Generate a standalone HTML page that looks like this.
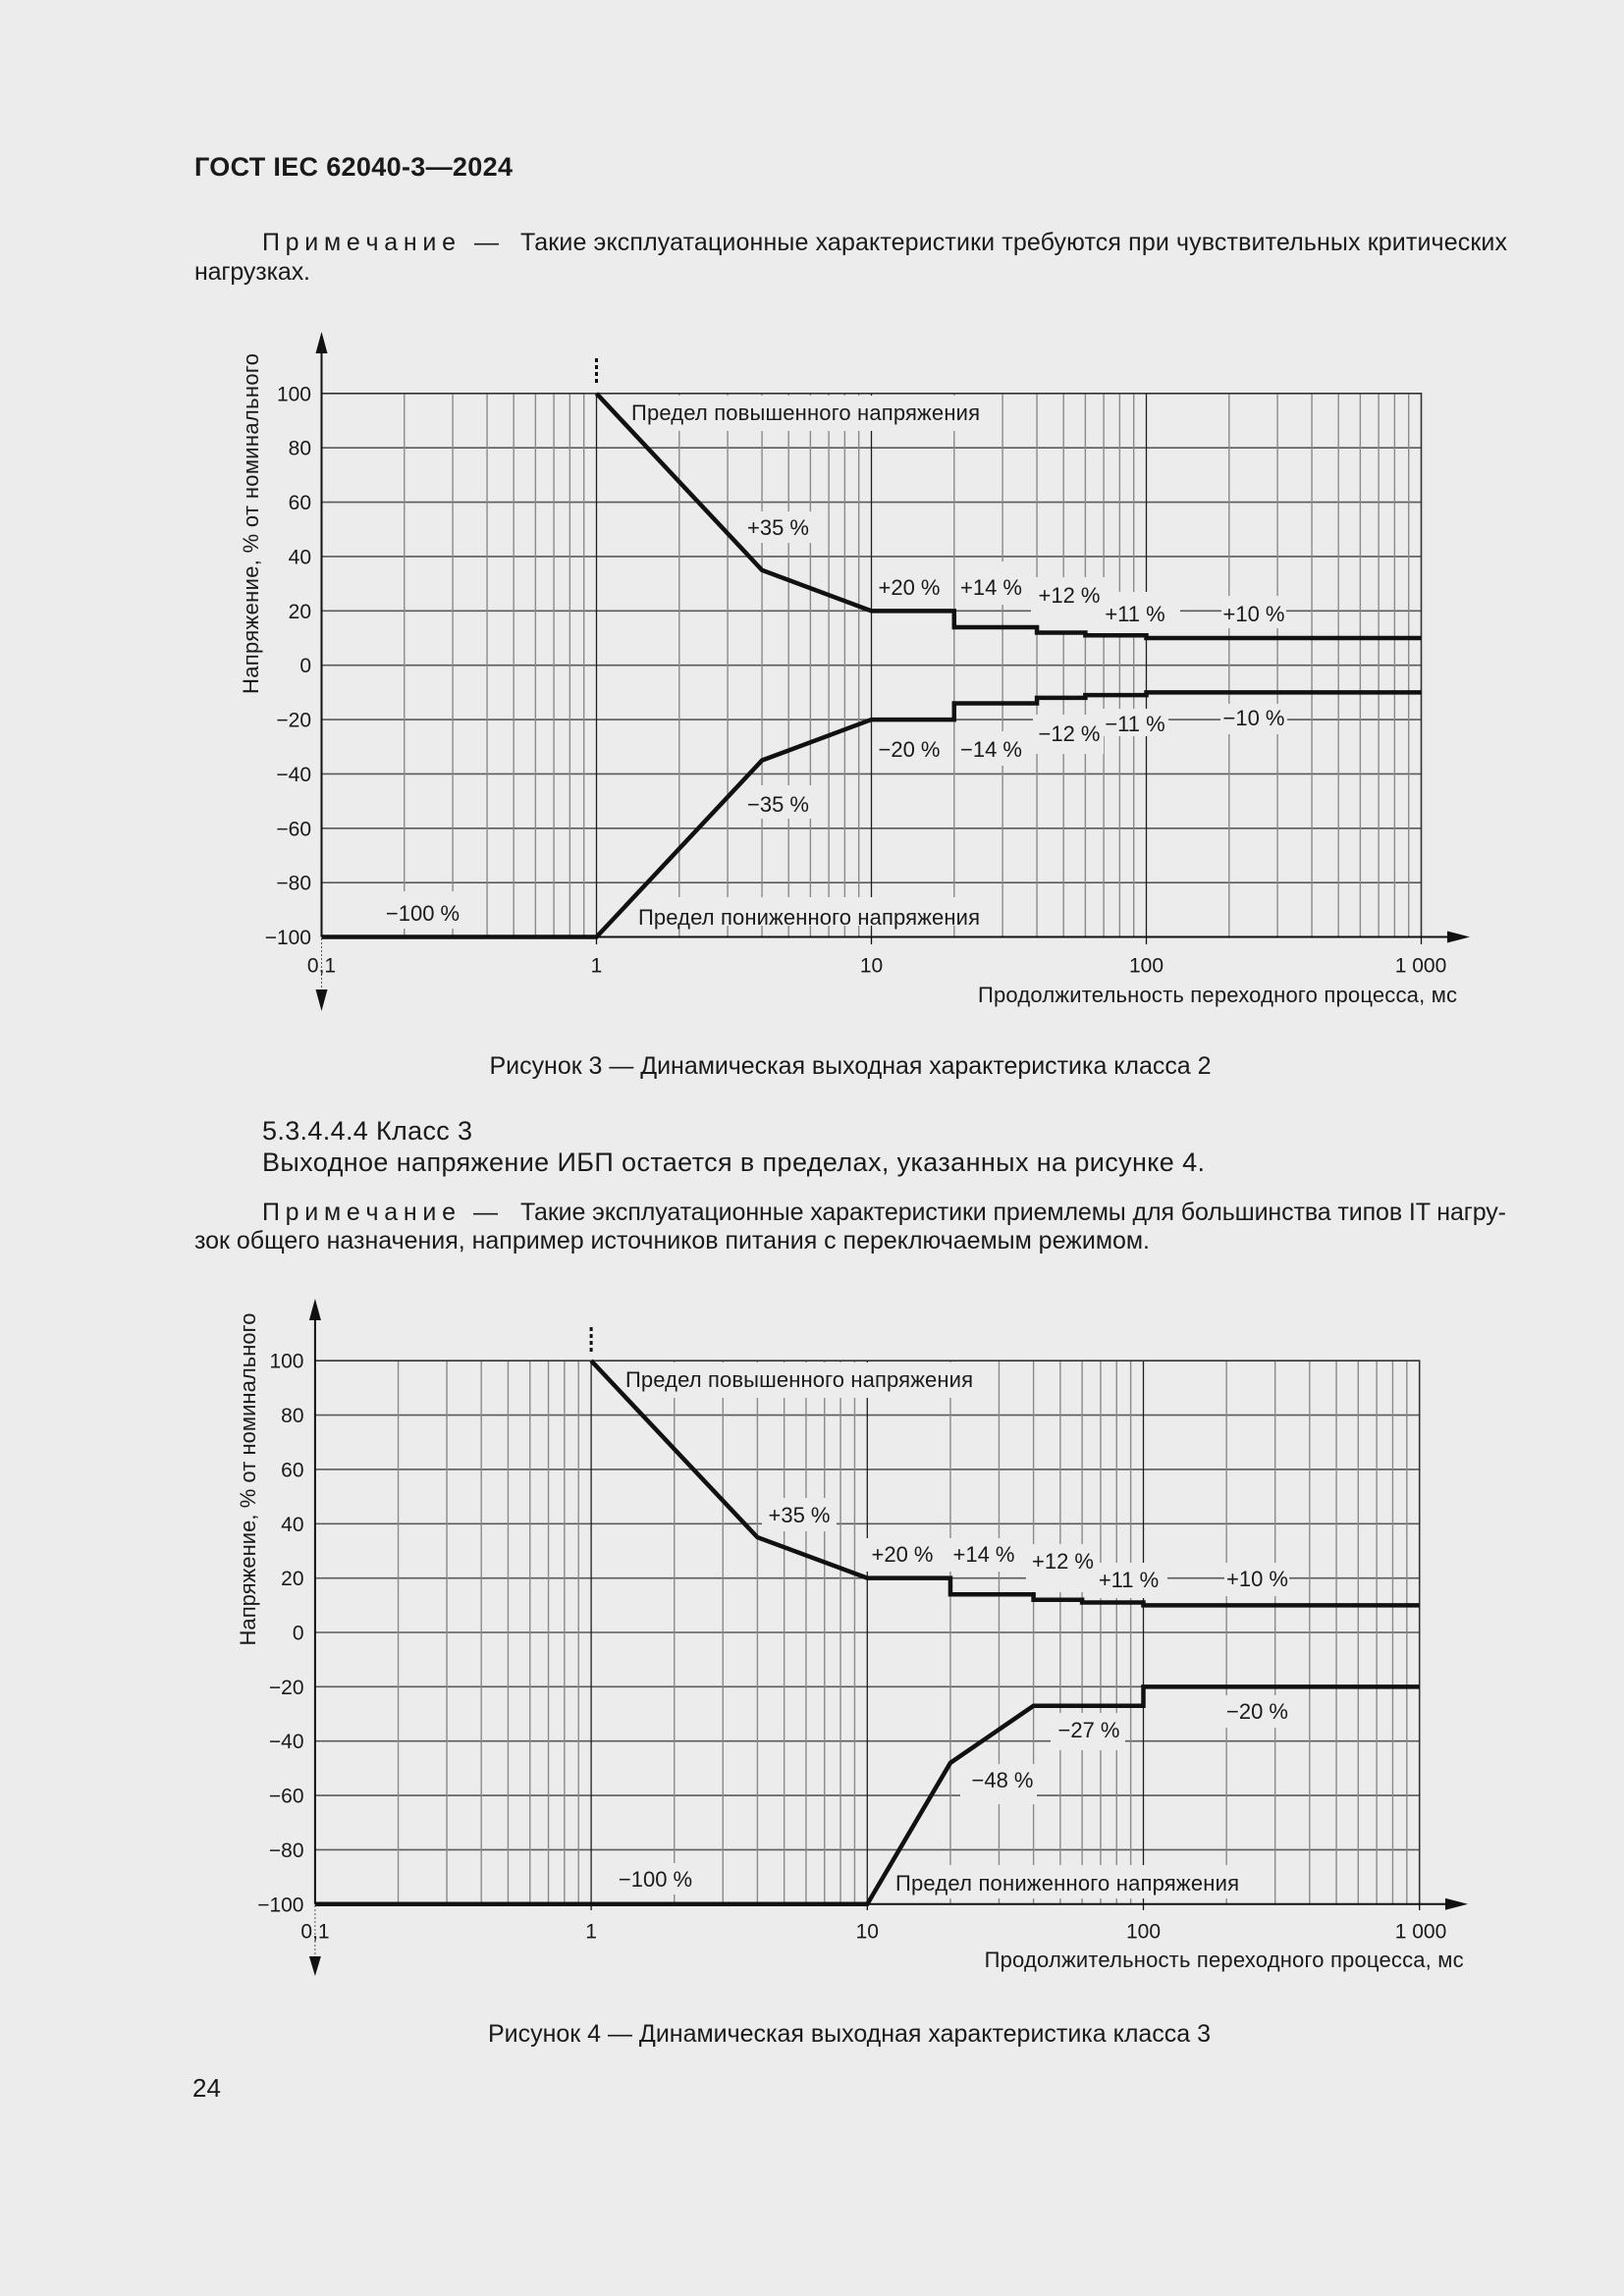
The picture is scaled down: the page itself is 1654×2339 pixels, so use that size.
<!DOCTYPE html>
<html><head><meta charset="utf-8"><style>
html,body{margin:0;padding:0;background:#ececec;}
svg{display:block;}
text{font-family:"Liberation Sans",Arial,sans-serif;fill:#1a1a1a;}
.t{font-size:21px;}
.l{font-size:22px;}
</style></head><body>
<svg width="1654" height="2339" viewBox="0 0 1654 2339" xmlns="http://www.w3.org/2000/svg">
<rect x="0" y="0" width="1654" height="2339" fill="#ececec"/>

<!-- Page text -->
<text x="198" y="179" font-size="27" font-weight="bold" textLength="324">ГОСТ IEC 62040-3—2024</text>
<text x="267" y="255" font-size="25" textLength="197">П р и м е ч а н и е</text>
<text x="483" y="255" font-size="25">—</text>
<text x="530" y="255" font-size="25" textLength="1005">Такие эксплуатационные характеристики требуются при чувствительных критических</text>
<text x="198" y="285" font-size="25" textLength="118">нагрузках.</text>

<text x="866" y="1094" font-size="25" text-anchor="middle" textLength="735">Рисунок 3 — Динамическая выходная характеристика класса 2</text>

<text x="267" y="1161" font-size="27" textLength="214">5.3.4.4.4 Класс 3</text>
<text x="267" y="1193" font-size="27" textLength="960">Выходное напряжение ИБП остается в пределах, указанных на рисунке 4.</text>
<text x="267" y="1243" font-size="25" textLength="197">П р и м е ч а н и е</text>
<text x="482" y="1243" font-size="25">—</text>
<text x="530" y="1243" font-size="25" textLength="1004">Такие эксплуатационные характеристики приемлемы для большинства типов IT нагру-</text>
<text x="198" y="1272" font-size="25" textLength="973">зок общего назначения, например источников питания с переключаемым режимом.</text>

<text x="865" y="2080" font-size="25" text-anchor="middle" textLength="736">Рисунок 4 — Динамическая выходная характеристика класса 3</text>
<text x="196" y="2136" font-size="26" textLength="29">24</text>

<!-- ================= CHART 1 ================= -->
<g>
<path d="M327.5 456.22H1447.5M327.5 511.59H1447.5M327.5 566.96H1447.5M327.5 622.33H1447.5M327.5 677.7H1447.5M327.5 733.07H1447.5M327.5 788.44H1447.5M327.5 843.81H1447.5M327.5 899.18H1447.5" stroke="#5a5a5a" stroke-width="1.6" fill="none"/>
<path d="M411.79 400.85V954.55M461.09 400.85V954.55M496.08 400.85V954.55M523.21 400.85V954.55M545.38 400.85V954.55M564.13 400.85V954.55M580.37 400.85V954.55M594.69 400.85V954.55M691.79 400.85V954.55M741.09 400.85V954.55M776.08 400.85V954.55M803.21 400.85V954.55M825.38 400.85V954.55M844.13 400.85V954.55M860.37 400.85V954.55M874.69 400.85V954.55M971.79 400.85V954.55M1021.09 400.85V954.55M1056.08 400.85V954.55M1083.21 400.85V954.55M1105.38 400.85V954.55M1124.13 400.85V954.55M1140.37 400.85V954.55M1154.69 400.85V954.55M1251.79 400.85V954.55M1301.09 400.85V954.55M1336.08 400.85V954.55M1363.21 400.85V954.55M1385.38 400.85V954.55M1404.13 400.85V954.55M1420.37 400.85V954.55M1434.69 400.85V954.55" stroke="#8a8a8a" stroke-width="1.4" fill="none"/>
<path d="M607.5 400.85V954.55M887.5 400.85V954.55M1167.5 400.85V954.55" stroke="#1e1e1e" stroke-width="1.3" fill="none"/>
<g fill="#ececec">
<rect x="620" y="403" width="383" height="36"/>
<rect x="753" y="521" width="79" height="32"/>
<rect x="889" y="582" width="74" height="34"/>
<rect x="973" y="572" width="74" height="44"/>
<rect x="1050" y="588" width="75" height="55"/>
<rect x="1118" y="603" width="84" height="42"/>
<rect x="1244" y="607" width="66" height="33"/>
<rect x="889" y="745" width="74" height="35"/>
<rect x="973" y="745" width="74" height="35"/>
<rect x="1052" y="728" width="72" height="40"/>
<rect x="1122" y="722" width="68" height="28"/>
<rect x="1243" y="717" width="68" height="31"/>
<rect x="753" y="800" width="79" height="34"/>
<rect x="386" y="908" width="89" height="38"/>
<rect x="640" y="914" width="365" height="29"/>
</g>
<path d="M327.5 400.85H1447.5V954.55" stroke="#333" stroke-width="1.6" fill="none"/>
<path d="M327.5 355V954.55" stroke="#111" stroke-width="2" fill="none"/>
<path d="M327.5 956V1010" stroke="#555" stroke-width="1" stroke-dasharray="2 2" fill="none"/>
<path d="M327.5 954.55H1476" stroke="#111" stroke-width="2" fill="none"/>
<path d="M607.5 954.55V962M887.5 954.55V962M1167.5 954.55V962M1447.5 954.55V962" stroke="#111" stroke-width="1.3" fill="none"/>
<polygon points="327.5,338 321.5,360 333.5,360" fill="#111"/>
<polygon points="327.5,1030 321.5,1008 333.5,1008" fill="#111"/>
<polygon points="1497,954.55 1474,948.5 1474,960.5" fill="#111"/>
<path d="M607.5 365V391" stroke="#111" stroke-width="3" stroke-dasharray="4 3" fill="none"/>
<path d="M607.5 400.85L776.08 580.8L887.5 622.33H971.79V638.94H1056.08V644.48H1105.38V647.25H1167.5V650.02H1447.5" stroke="#111" stroke-width="4.5" fill="none" stroke-linejoin="miter"/>
<path d="M327.5 954.55H607.5L776.08 774.6L887.5 733.07H971.79V716.46H1056.08V710.92H1105.38V708.15H1167.5V705.39H1447.5" stroke="#111" stroke-width="4.5" fill="none" stroke-linejoin="miter"/>
<g class="t" text-anchor="end">
<text x="317" y="408.4">100</text>
<text x="317" y="463.7">80</text>
<text x="317" y="519.1">60</text>
<text x="317" y="574.5">40</text>
<text x="317" y="629.8">20</text>
<text x="317" y="685.2">0</text>
<text x="317" y="740.6">−20</text>
<text x="317" y="795.9">−40</text>
<text x="317" y="851.3">−60</text>
<text x="317" y="906.7">−80</text>
<text x="317" y="962">−100</text>
</g>
<g class="t" text-anchor="middle">
<text x="327.5" y="990.5">0,1</text>
<text x="607.5" y="990.5">1</text>
<text x="887.5" y="990.5">10</text>
<text x="1167.5" y="990.5">100</text>
<text x="1447" y="990.5">1 000</text>
</g>
<text class="l" x="996" y="1021" textLength="488">Продолжительность переходного процесса, мс</text>
<text class="l" transform="translate(263,533.5) rotate(-90)" text-anchor="middle" textLength="347">Напряжение,  % от номинального</text>
<text class="l" x="643" y="428" textLength="355">Предел повышенного напряжения</text>
<text class="l" x="650" y="942" textLength="348">Предел пониженного напряжения</text>
<g class="l" text-anchor="middle">
<text x="792.5" y="545">+35 %</text>
<text x="926" y="606">+20 %</text>
<text x="1009.5" y="606">+14 %</text>
<text x="1089" y="614">+12 %</text>
<text x="1156" y="633">+11 %</text>
<text x="1277" y="633">+10 %</text>
<text x="926" y="771">−20 %</text>
<text x="1009.5" y="771">−14 %</text>
<text x="1089" y="755">−12 %</text>
<text x="1156" y="745">−11 %</text>
<text x="1277" y="739">−10 %</text>
<text x="792.5" y="827">−35 %</text>
<text x="430.5" y="938">−100 %</text>
</g>
</g>

<!-- ================= CHART 2 ================= -->
<g>
<path d="M320.9 1441.56H1445.7M320.9 1496.92H1445.7M320.9 1552.28H1445.7M320.9 1607.64H1445.7M320.9 1663H1445.7M320.9 1718.36H1445.7M320.9 1773.72H1445.7M320.9 1829.08H1445.7M320.9 1884.44H1445.7" stroke="#5a5a5a" stroke-width="1.6" fill="none"/>
<path d="M405.55 1386.2V1939.8M455.07 1386.2V1939.8M490.2 1386.2V1939.8M517.45 1386.2V1939.8M539.72 1386.2V1939.8M558.54 1386.2V1939.8M574.85 1386.2V1939.8M589.23 1386.2V1939.8M686.75 1386.2V1939.8M736.27 1386.2V1939.8M771.4 1386.2V1939.8M798.65 1386.2V1939.8M820.92 1386.2V1939.8M839.74 1386.2V1939.8M856.05 1386.2V1939.8M870.43 1386.2V1939.8M967.95 1386.2V1939.8M1017.47 1386.2V1939.8M1052.6 1386.2V1939.8M1079.85 1386.2V1939.8M1102.12 1386.2V1939.8M1120.94 1386.2V1939.8M1137.25 1386.2V1939.8M1151.63 1386.2V1939.8M1249.15 1386.2V1939.8M1298.67 1386.2V1939.8M1333.8 1386.2V1939.8M1361.05 1386.2V1939.8M1383.32 1386.2V1939.8M1402.14 1386.2V1939.8M1418.45 1386.2V1939.8M1432.83 1386.2V1939.8" stroke="#8a8a8a" stroke-width="1.4" fill="none"/>
<path d="M602.1 1386.2V1939.8M883.3 1386.2V1939.8M1164.5 1386.2V1939.8" stroke="#1e1e1e" stroke-width="1.3" fill="none"/>
<g fill="#ececec">
<rect x="620" y="1388" width="378" height="36"/>
<rect x="776" y="1526" width="76" height="34"/>
<rect x="882" y="1567" width="74" height="34"/>
<rect x="966" y="1567" width="73" height="34"/>
<rect x="1045" y="1573" width="73" height="49"/>
<rect x="1115" y="1592" width="74" height="36"/>
<rect x="1247" y="1592" width="66" height="34"/>
<rect x="1244" y="1727" width="73" height="33"/>
<rect x="1070" y="1745" width="76" height="38"/>
<rect x="978" y="1797" width="78" height="41"/>
<rect x="622" y="1898" width="90" height="32"/>
<rect x="905" y="1900" width="363" height="34"/>
</g>
<path d="M320.9 1386.2H1445.7V1939.8" stroke="#333" stroke-width="1.6" fill="none"/>
<path d="M320.9 1340V1939.8" stroke="#111" stroke-width="2" fill="none"/>
<path d="M320.9 1941V1995" stroke="#555" stroke-width="1" stroke-dasharray="2 2" fill="none"/>
<path d="M320.9 1939.8H1474" stroke="#111" stroke-width="2" fill="none"/>
<path d="M602.1 1939.8V1946M883.3 1939.8V1946M1164.5 1939.8V1946M1445.7 1939.8V1946" stroke="#111" stroke-width="1.3" fill="none"/>
<polygon points="320.9,1323 314.9,1345 326.9,1345" fill="#111"/>
<polygon points="320.9,2013 314.9,1993 326.9,1993" fill="#111"/>
<polygon points="1495,1939.8 1472,1933.8 1472,1945.8" fill="#111"/>
<path d="M602.1 1352V1377" stroke="#111" stroke-width="3" stroke-dasharray="4 3" fill="none"/>
<path d="M602.1 1386.2L771.4 1566.12L883.3 1607.64H967.95V1624.25H1052.6V1629.78H1102.12V1632.55H1164.5V1635.32H1445.7" stroke="#111" stroke-width="4.5" fill="none" stroke-linejoin="miter"/>
<path d="M320.9 1939.8H883.3L967.95 1795.86L1052.6 1737.74H1164.5V1718.36H1445.7" stroke="#111" stroke-width="4.5" fill="none" stroke-linejoin="miter"/>
<g class="t" text-anchor="end">
<text x="309.5" y="1393.7">100</text>
<text x="309.5" y="1449.1">80</text>
<text x="309.5" y="1504.4">60</text>
<text x="309.5" y="1559.8">40</text>
<text x="309.5" y="1615.1">20</text>
<text x="309.5" y="1670.5">0</text>
<text x="309.5" y="1725.9">−20</text>
<text x="309.5" y="1781.2">−40</text>
<text x="309.5" y="1836.6">−60</text>
<text x="309.5" y="1891.9">−80</text>
<text x="309.5" y="1947.3">−100</text>
</g>
<g class="t" text-anchor="middle">
<text x="321" y="1974.5">0,1</text>
<text x="602.1" y="1974.5">1</text>
<text x="883.3" y="1974.5">10</text>
<text x="1164.5" y="1974.5">100</text>
<text x="1447" y="1974.5">1 000</text>
</g>
<text class="l" x="1002.6" y="2004" textLength="488">Продолжительность переходного процесса, мс</text>
<text class="l" transform="translate(260,1507) rotate(-90)" text-anchor="middle" textLength="339">Напряжение,  % от номинального</text>
<text class="l" x="637" y="1413" textLength="354">Предел повышенного напряжения</text>
<text class="l" x="912" y="1926" textLength="350">Предел пониженного напряжения</text>
<g class="l" text-anchor="middle">
<text x="814" y="1551">+35 %</text>
<text x="919" y="1591">+20 %</text>
<text x="1002" y="1591">+14 %</text>
<text x="1082.5" y="1598">+12 %</text>
<text x="1149.5" y="1617">+11 %</text>
<text x="1280.5" y="1616">+10 %</text>
<text x="1280.5" y="1751">−20 %</text>
<text x="1109" y="1770">−27 %</text>
<text x="1021" y="1821">−48 %</text>
<text x="667.5" y="1922">−100 %</text>
</g>
</g>
</svg>
</body></html>
